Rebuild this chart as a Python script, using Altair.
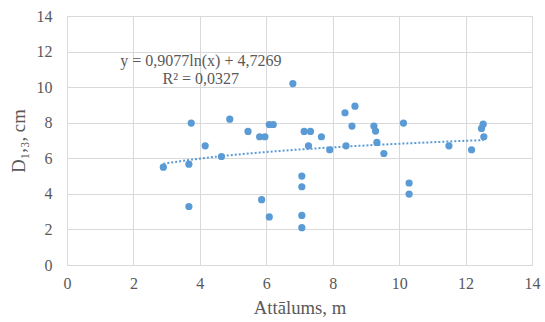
import altair as alt
import pandas as pd

# Distance from the tree (m) and measured diameter D1,3 (cm)
distance_m = [2.9, 3.67, 3.67, 3.74, 4.16, 4.65, 4.9, 5.45, 5.8, 5.96, 5.86, 6.09,
              6.09, 6.21, 6.8, 7.07, 7.07, 7.07, 7.07, 7.14, 7.33, 7.27, 7.66, 7.91,
              8.37, 8.4, 8.58, 8.67, 9.24, 9.29, 9.33, 9.54, 10.13, 10.3, 10.3,
              11.5, 12.18, 12.48, 12.53, 12.55]
diameter_cm = [5.5, 5.67, 3.29, 7.98, 6.7, 6.1, 8.2, 7.51, 7.21, 7.21, 3.67, 2.7,
               7.9, 7.9, 10.2, 5.0, 4.4, 2.79, 2.1, 7.51, 7.51, 6.7, 7.21, 6.48,
               8.56, 6.7, 7.81, 8.93, 7.81, 7.53, 6.89, 6.27, 7.98, 4.61, 3.99,
               6.7, 6.48, 7.68, 7.92, 7.21]

# Logarithmic trend: y = a*ln(x) + b
trend_a = 0.9077
trend_b = 4.7269
r_squared = 0.0327

tick_values = [0, 2, 4, 6, 8, 10, 12, 14]

pts = pd.DataFrame({"x": distance_m, "y": diameter_cm})
trend_src = pd.DataFrame({"x": sorted(distance_m)})

eq_lines = pd.DataFrame({
    "x": [4.03, 4.03],
    "y": [11.45, 10.45],
    "label": [f"y = {trend_a:.4f}ln(x) + {trend_b:.4f}".replace(".", ","),
              f"R² = {r_squared:.4f}".replace(".", ",")],
})

FONT = "Liberation Serif"
BLUE = "#5b9bd5"
GRID = "#d9d9d9"
TEXT = "#595959"

x_scale = alt.Scale(domain=[0, 14], nice=False)
y_scale = alt.Scale(domain=[0, 14], nice=False)

common = dict(values=tick_values, grid=True, gridColor=GRID, domainColor=GRID,
              ticks=False, labelFont=FONT, labelFontSize=16, labelColor=TEXT,
              labelOverlap=False, labelFlush=False,
              titleFont=FONT, titleFontSize=18.7, titleFontWeight="normal",
              titleColor=TEXT)
x_axis = alt.Axis(title="Attālums, m", labelPadding=10, titlePadding=7, **common)
y_axis = alt.Axis(title="D₁,₃, cm", labelPadding=15, titlePadding=8, **common)

X = lambda field: alt.X(field, scale=x_scale, axis=x_axis)
Y = lambda field: alt.Y(field, scale=y_scale, axis=y_axis)

trend = alt.Chart(trend_src).transform_calculate(
    yt=f"{trend_a} * log(datum.x) + {trend_b}"
).mark_line(color=BLUE, strokeDash=[2, 2], strokeWidth=2).encode(
    x=X("x:Q"),
    y=Y("yt:Q"),
)

points = alt.Chart(pts).mark_circle(size=52, color=BLUE, opacity=1).encode(
    x=X("x:Q"),
    y=Y("y:Q"),
)

equation = alt.Chart(eq_lines).mark_text(
    font=FONT, fontSize=16, color=TEXT, align="center", baseline="middle"
).encode(
    x=X("x:Q"),
    y=Y("y:Q"),
    text="label:N",
)

chart = alt.layer(trend, points, equation).properties(
    width=465, height=249,
    autosize=alt.AutoSizeParams(type="none"),
    padding={"left": 67, "top": 16, "right": 13, "bottom": 57},
    background="white",
).configure_view(stroke=GRID)

chart.save("out.html", embed_options={"renderer": "svg", "actions": False})
